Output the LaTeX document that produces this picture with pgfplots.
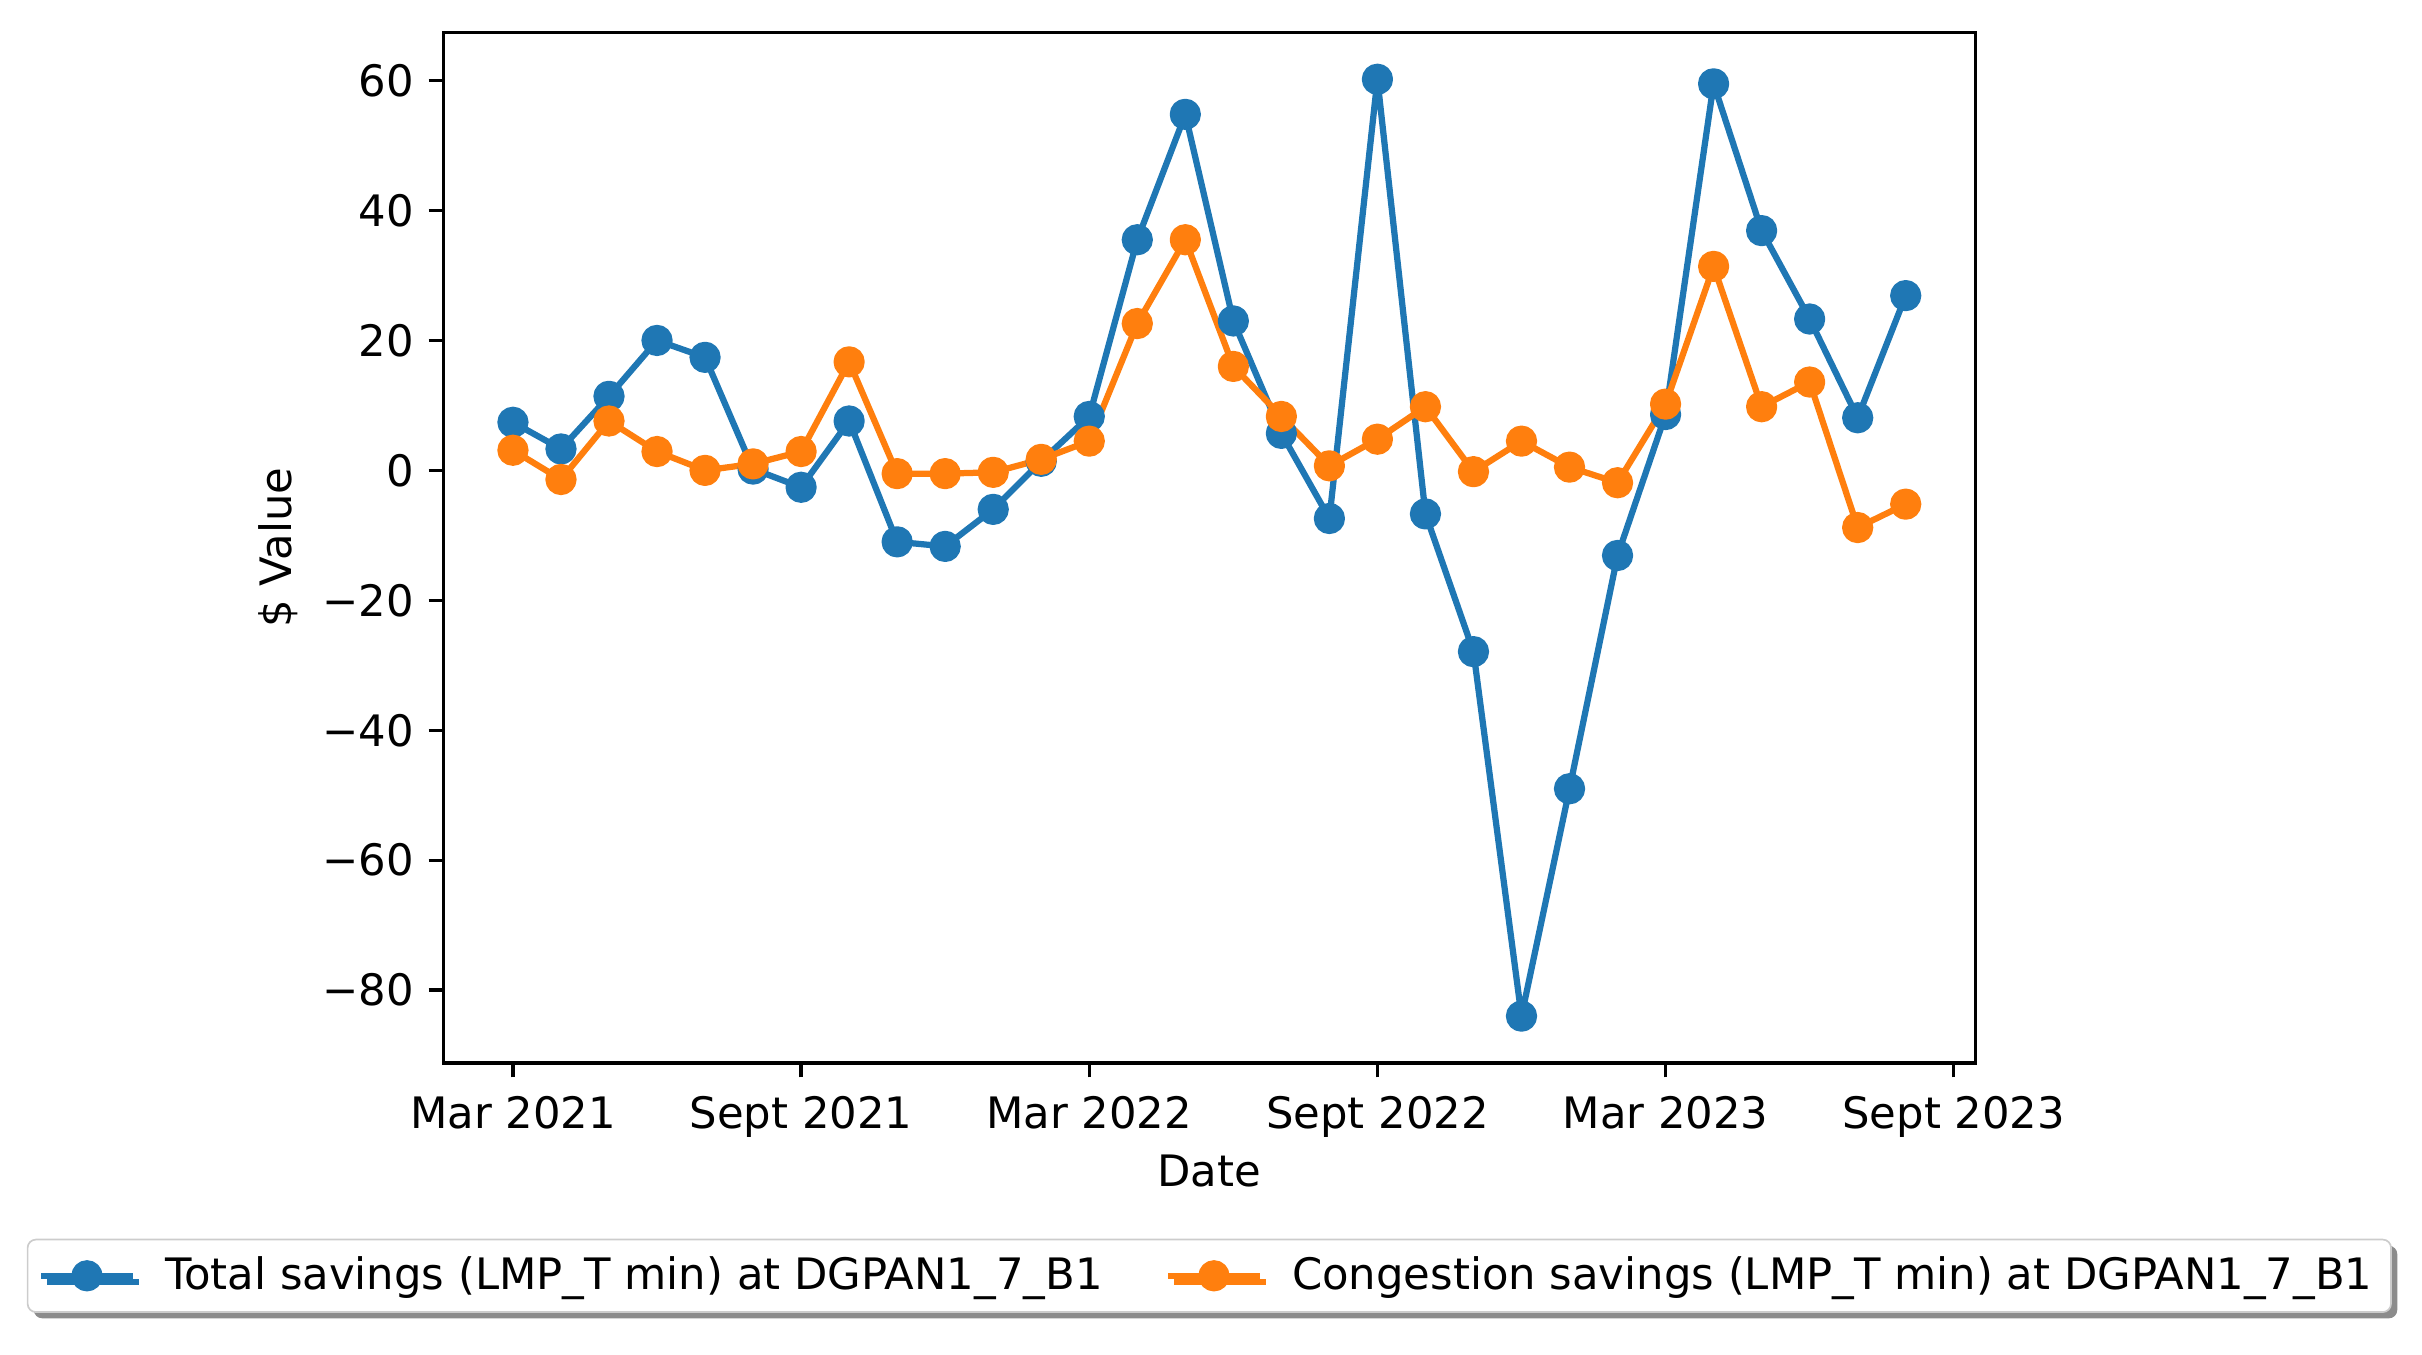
\documentclass[border=0pt]{standalone}
\usepackage{pgfplots}
\pgfplotsset{compat=1.18}
\usepackage{fontspec}
\setmainfont{DejaVu Sans}
\usetikzlibrary{shadows}
\definecolor{cA}{HTML}{1F77B4}
\definecolor{cB}{HTML}{FF7F0E}
\begin{document}
\begin{tikzpicture}
\useasboundingbox (-106.4pt,-69.9pt) rectangle (474.9pt,255.1pt);
\begin{axis}[
  at={(0,0)}, anchor=south west,
  scale only axis, width=367.7pt, height=247.3pt,
  xmin=-1.45, xmax=30.45, ymin=-91.2, ymax=67.4,
  xtick={0,6,12,18,24,30},
  xticklabels={Mar 2021,Sept 2021,Mar 2022,Sept 2022,Mar 2023,Sept 2023},
  ytick={-80,-60,-40,-20,0,20,40,60},
  yticklabels={−80,−60,−40,−20,0,20,40,60},
  tick align=outside, tick pos=left,
  major tick length=3.5pt,
  every tick/.style={black, line width=0.8pt},
  axis line style={line width=0.8pt},
  tick label style={font=\fontsize{10.4}{12.5}\selectfont},
  xticklabel style={yshift=-1pt},
  label style={font=\fontsize{10.4}{12.5}\selectfont},
  xlabel={Date}, ylabel={\$ Value},
  xlabel style={yshift=2.7pt},
  ylabel style={yshift=-1pt},
  legend columns=2,
  legend style={at={(0.5,0)}, anchor=north, yshift=-42.2pt,
    draw=black!20, rounded corners=2pt, fill=white,
    font=\fontsize{10.4}{12.5}\selectfont,
    drop shadow={shadow xshift=1.5pt, shadow yshift=-1.5pt, fill=black!45, opacity=1},
    inner xsep=2.5pt, inner ysep=2pt,
    /tikz/every odd column/.append style={column sep=5pt},
    /tikz/every even column/.append style={column sep=13pt}},
  legend cell align=left,
  legend image code/.code={\draw[mark repeat=2,mark phase=2,line width=1.5pt] plot coordinates {(0pt,0pt) (11pt,0pt) (22pt,0pt)};},
]
\addplot[cA, line width=1.5pt, line join=round, mark=*, mark size=3pt, mark options={solid}] coordinates {
(0,7.4) (1,3.3) (2,11.4) (3,20) (4,17.4) (5,0.2) (6,-2.6) (7,7.6) (8,-11) (9,-11.7)
(10,-6) (11,1.4) (12,8.3) (13,35.5) (14,54.8) (15,23) (16,5.7) (17,-7.4) (18,60.2) (19,-6.7)
(20,-27.9) (21,-84) (22,-49) (23,-13.1) (24,8.6) (25,59.5) (26,36.9) (27,23.3) (28,8.1) (29,26.9)
};
\addlegendentry{Total savings (LMP\_T min) at DGPAN1\_7\_B1}
\addplot[cB, line width=1.5pt, line join=round, mark=*, mark size=3pt, mark options={solid}] coordinates {
(0,3.1) (1,-1.4) (2,7.6) (3,2.9) (4,0) (5,1) (6,2.9) (7,16.7) (8,-0.5) (9,-0.5)
(10,-0.3) (11,1.7) (12,4.5) (13,22.6) (14,35.5) (15,16) (16,8.3) (17,0.7) (18,4.8) (19,9.8)
(20,-0.2) (21,4.5) (22,0.5) (23,-1.9) (24,10.2) (25,31.4) (26,9.8) (27,13.6) (28,-8.8) (29,-5.2)
};
\addlegendentry{Congestion savings (LMP\_T min) at DGPAN1\_7\_B1}
\end{axis}
\end{tikzpicture}
\end{document}
